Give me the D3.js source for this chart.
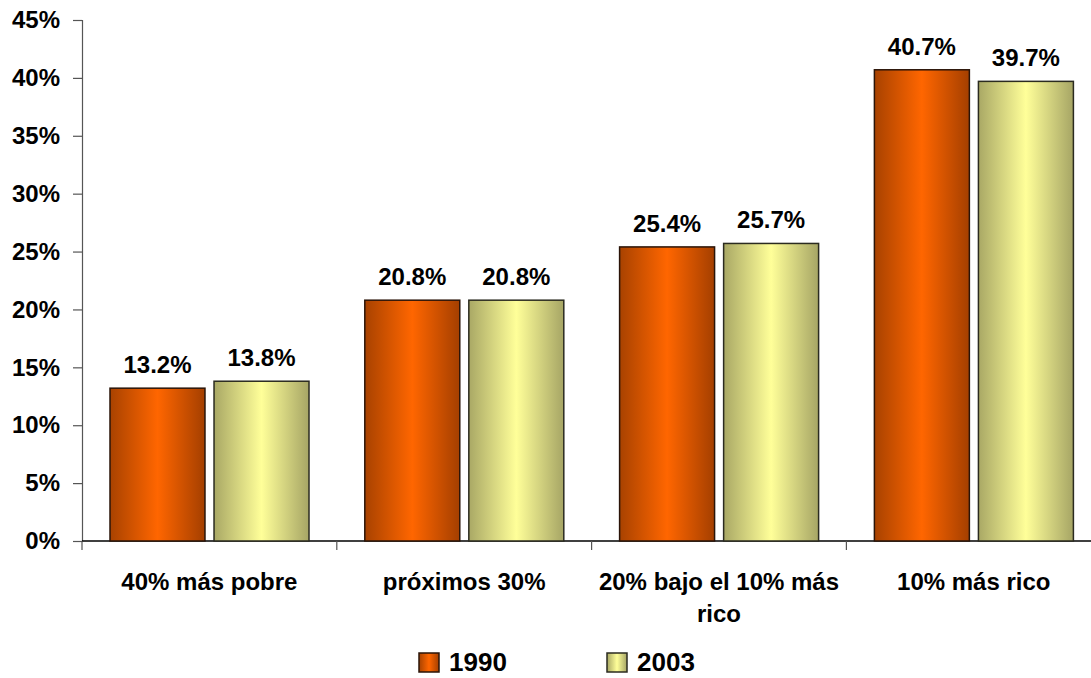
<!DOCTYPE html>
<html>
<head>
<meta charset="utf-8">
<script src="https://cdn.jsdelivr.net/npm/d3@7"></script>
<style>
  html, body { margin: 0; padding: 0; background: #fff; }
  svg { display: block; font-family: "Liberation Sans", Arial, sans-serif; font-weight: bold; }
</style>
</head>
<body>
<svg id="chart" width="1091" height="678"></svg>
<script>
const categories = ["40% más pobre", "próximos 30%", "20% bajo el 10% más rico", "10% más rico"];
const seriesNames = ["1990", "2003"];
const values1990 = [13.2, 20.8, 25.4, 40.7];
const values2003 = [13.8, 20.8, 25.7, 39.7];
const yTicks = [0, 5, 10, 15, 20, 25, 30, 35, 40, 45];

(function () {
const svg = d3.select("#chart");
const W = 1091;
const mLeft = 82, mTop = 20, mBottom = 541;
const bandW = 254.8;

const defs = svg.append("defs");
function grad(id, edgeL, mid, edgeR) {
  const g = defs.append("linearGradient").attr("id", id)
    .attr("x1", "0%").attr("x2", "100%").attr("y1", "0%").attr("y2", "0%");
  g.append("stop").attr("offset", "0%").attr("stop-color", edgeL);
  g.append("stop").attr("offset", "50%").attr("stop-color", mid);
  g.append("stop").attr("offset", "100%").attr("stop-color", edgeR);
}
grad("g1990", "#a84200", "#ff6600", "#a43f00");
grad("g2003", "#a9a865", "#ffff99", "#a6a565");
const fills = { "1990": "url(#g1990)", "2003": "url(#g2003)" };
const strokes = { "1990": "#2a1408", "2003": "#2b2b20" };

const x = d3.scaleBand().domain(categories).range([mLeft, mLeft + bandW * 4]).padding(0);
const xs = d3.scaleBand().domain(seriesNames).range([28, 227]).paddingInner(0.087);
const y = d3.scaleLinear().domain([0, 45]).range([mBottom, mTop]);

const data = categories.map((c, i) => ({ cat: c, vals: [
  { s: "1990", v: values1990[i] }, { s: "2003", v: values2003[i] }
]}));

// Y axis
const yAxis = svg.append("g").attr("transform", `translate(${mLeft},0)`)
  .call(d3.axisLeft(y).tickValues(yTicks).tickSize(9).tickPadding(13).tickFormat(d => d + "%"));
yAxis.select(".domain").attr("stroke", "#555").attr("stroke-width", 1.2);
yAxis.selectAll(".tick line").attr("stroke", "#555").attr("stroke-width", 1.2);
yAxis.selectAll(".tick text").attr("font-size", 24).attr("font-weight", "bold")
  .attr("font-family", "Liberation Sans, Arial, sans-serif").attr("fill", "#000");

// X axis
const xAxisG = svg.append("g");
xAxisG.append("line").attr("x1", mLeft).attr("x2", W).attr("y1", mBottom).attr("y2", mBottom)
  .attr("stroke", "#000").attr("stroke-width", 1.3);
const boundaries = categories.map(c => x(c));
xAxisG.selectAll("line.tk").data(boundaries).enter().append("line").attr("class", "tk")
  .attr("x1", d => d).attr("x2", d => d).attr("y1", mBottom).attr("y2", mBottom + 9)
  .attr("stroke", "#555").attr("stroke-width", 1.2);

// Category labels with wrapping
function wrapLines(text, maxW, size) {
  const words = text.split(" ");
  const tmp = svg.append("text").attr("font-size", size).attr("font-weight", "bold");
  const lines = [];
  let cur = "";
  words.forEach(w => {
    const t = cur ? cur + " " + w : w;
    tmp.text(t);
    if (tmp.node().getComputedTextLength() > maxW && cur) { lines.push(cur); cur = w; }
    else cur = t;
  });
  if (cur) lines.push(cur);
  tmp.remove();
  return lines;
}
categories.forEach(c => {
  const lines = wrapLines(c, 245, 24);
  const t = svg.append("text").attr("text-anchor", "middle").attr("font-size", 24)
    .attr("fill", "#000");
  lines.forEach((ln, i) => {
    t.append("tspan").attr("x", x(c) + bandW / 2).attr("y", 590 + i * 32).text(ln);
  });
});

// Bars
const groups = svg.selectAll("g.cat").data(data).enter().append("g").attr("class", "cat")
  .attr("transform", d => `translate(${x(d.cat)},0)`);
groups.selectAll("rect").data(d => d.vals).enter().append("rect")
  .attr("x", d => xs(d.s)).attr("width", xs.bandwidth())
  .attr("y", d => y(d.v)).attr("height", d => mBottom - y(d.v))
  .attr("fill", d => fills[d.s]).attr("stroke", d => strokes[d.s]).attr("stroke-width", 1.5);
groups.selectAll("text.val").data(d => d.vals).enter().append("text").attr("class", "val")
  .attr("x", d => xs(d.s) + xs.bandwidth() / 2).attr("y", d => y(d.v) - 15)
  .attr("text-anchor", "middle").attr("font-size", 24).attr("fill", "#000")
  .text(d => d.v.toFixed(1) + "%");

// Legend
const legendX = { "1990": 419, "2003": 607 };
seriesNames.forEach(s => {
  const g = svg.append("g");
  g.append("rect").attr("x", legendX[s]).attr("y", 653).attr("width", 20).attr("height", 19)
    .attr("fill", fills[s]).attr("stroke", strokes[s]).attr("stroke-width", 1.5);
  g.append("text").attr("x", legendX[s] + 30).attr("y", 671).attr("font-size", 26)
    .attr("fill", "#000").text(s);
});
})();
</script>
</body>
</html>
